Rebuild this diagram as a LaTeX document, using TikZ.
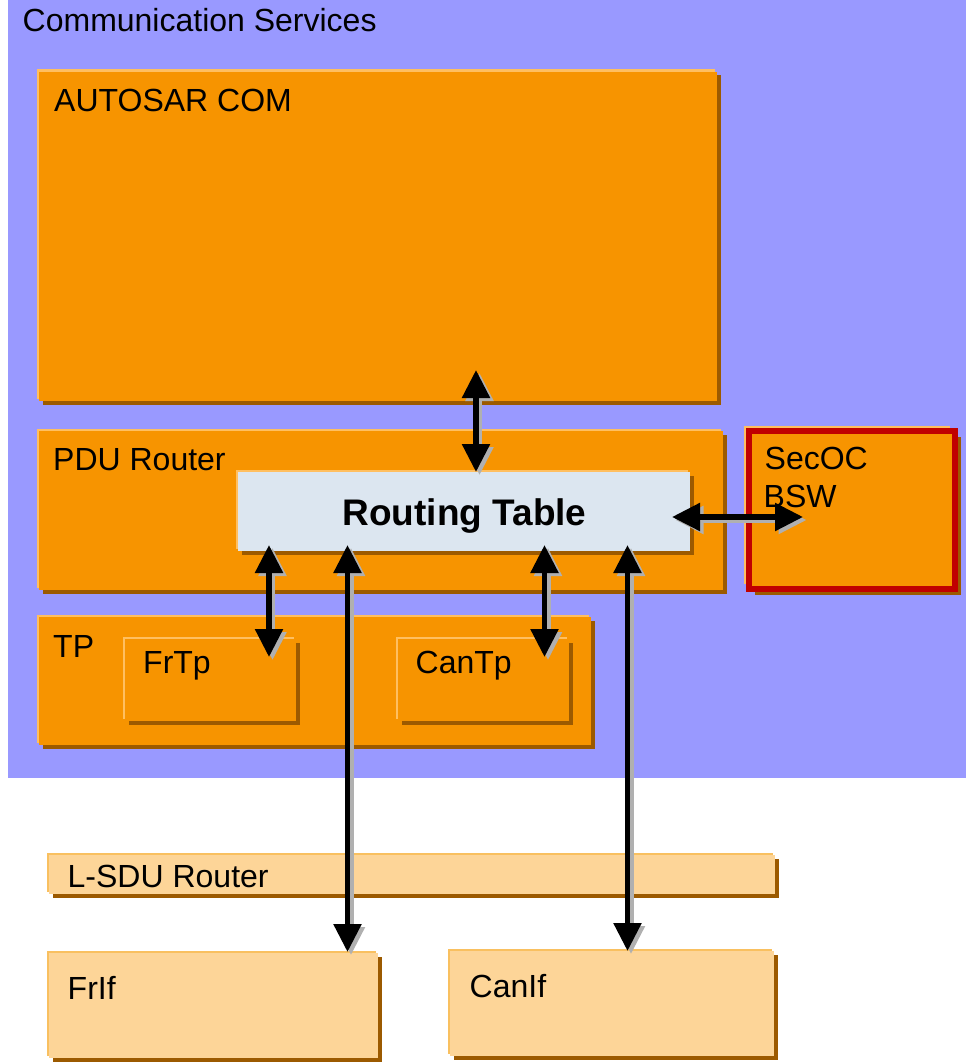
\documentclass[tikz,border=0pt]{standalone}
\usepackage{fontspec}
\setmainfont{Liberation Sans}
\usetikzlibrary{arrows.meta,shadows,calc}
\definecolor{bgblue}{HTML}{9999FF}
\definecolor{orng}{HTML}{F79400}
\definecolor{orlight}{HTML}{FFBF60}
\definecolor{shdark}{HTML}{9C5A00}
\definecolor{pale}{HTML}{FDD598}
\definecolor{paleedge}{HTML}{F9C060}
\definecolor{rtfill}{HTML}{DCE6F0}
\definecolor{secred}{HTML}{C00000}
\definecolor{arrgray}{HTML}{B0B0B0}
\begin{document}
\begin{tikzpicture}[x=1pt,y=-1pt,
  basebox/.style={inner sep=0pt, outer sep=0pt, anchor=north west, draw=none},
  obox/.style={basebox, fill=orng,
    general shadow={shadow xshift=3.5pt, shadow yshift=-3.5pt, fill=shdark},
    general shadow={shadow xshift=-2.5pt, shadow yshift=2.5pt, fill=orlight}},
  pbox/.style={basebox, fill=pale,
    general shadow={shadow xshift=3.5pt, shadow yshift=-3.5pt, fill=shdark},
    general shadow={shadow xshift=-2.5pt, shadow yshift=2.5pt, fill=paleedge}},
  rtbox/.style={basebox, fill=rtfill,
    general shadow={shadow xshift=3.5pt, shadow yshift=-3.5pt, fill=shdark},
    general shadow={shadow xshift=-2.5pt, shadow yshift=2.5pt, fill=orlight}},
  secbox/.style={basebox, fill=orng, draw=secred, line width=6pt,
    general shadow={shadow xshift=6pt, shadow yshift=-6pt, fill=shdark},
    general shadow={shadow xshift=-5pt, shadow yshift=5pt, fill=orlight}},
  lbl/.style={anchor=base west, inner sep=0pt, font=\fontsize{32}{38}\selectfont},
  arrtip/.tip={Triangle[width=27pt,length=28pt]},
  arr/.style={line width=5.5pt, arrtip-arrtip, black},
  arrsh/.style={line width=5.5pt, arrtip-arrtip, arrgray}
]
\useasboundingbox (0,0) rectangle (966,1062);
% background
\node[basebox, fill=bgblue, minimum width=958pt, minimum height=778pt] (cs) at (8,0) {};
\node[lbl] (csT) at (22.5,32) {Communication Services};
% boxes
\node[obox, minimum width=678pt, minimum height=329pt] (com) at (39,72) {};
\node[lbl] (comT) at (54,112) {AUTOSAR COM};
\node[obox, minimum width=684pt, minimum height=159pt] (pdu) at (39,431) {};
\node[lbl] (pduT) at (53,470) {PDU Router};
\node[secbox, minimum width=206pt, minimum height=158pt] (sec) at (749,431) {};
\node[lbl] (secT1) at (764.5,469) {SecOC};
\node[lbl] (secT2) at (763.5,507) {BSW};
\node[rtbox, minimum width=452pt, minimum height=79pt] (rt) at (238,472) {};
\node[anchor=base, inner sep=0pt, font=\fontsize{37}{44}\selectfont\bfseries] (rtT) at (464.5,525) {Routing Table};
\node[obox, minimum width=552pt, minimum height=128pt] (tp) at (39,617) {};
\node[lbl] (tpT) at (53,657) {TP};
\node[obox, minimum width=171pt, minimum height=82pt] (frtp) at (125,639) {};
\node[lbl] (frtpT) at (143,673) {FrTp};
\node[obox, minimum width=171pt, minimum height=82pt] (cantp) at (398,639) {};
\node[lbl] (cantpT) at (415.5,673) {CanTp};
\node[pbox, minimum width=726pt, minimum height=39pt] (lsdu) at (49,855) {};
\node[lbl] (lsduT) at (67.5,887) {L-SDU Router};
\node[pbox, minimum width=329pt, minimum height=105pt] (frif) at (49,953) {};
\node[lbl] (frifT) at (67.5,999) {FrIf};
\node[pbox, minimum width=324pt, minimum height=105pt] (canif) at (450,951) {};
\node[lbl] (canifT) at (469.5,997) {CanIf};
% arrow end points
\coordinate (a1) at (476,370);
\coordinate (a1e) at (476,472);
\coordinate (a2) at (672,517);
\coordinate (a2e) at (803,517);
\coordinate (a3) at (269,545);
\coordinate (a3e) at (269,657);
\coordinate (a4) at (347.5,545);
\coordinate (a4e) at (347.5,952);
\coordinate (a5) at (544.5,545);
\coordinate (a5e) at (544.5,657);
\coordinate (a6) at (627.5,545);
\coordinate (a6e) at (627.5,951);
% arrows: shadows then arrows
\foreach \s/\e in {a1/a1e,a2/a2e,a3/a3e,a4/a4e,a5/a5e,a6/a6e}{
  \draw[arrsh] ($(\s)+(3.5pt,-3pt)$) -- ($(\e)+(3.5pt,-3pt)$);
}
\foreach \s/\e in {a1/a1e,a2/a2e,a3/a3e,a4/a4e,a5/a5e,a6/a6e}{
  \draw[arr] (\s) -- (\e);
}
\end{tikzpicture}
\end{document}
